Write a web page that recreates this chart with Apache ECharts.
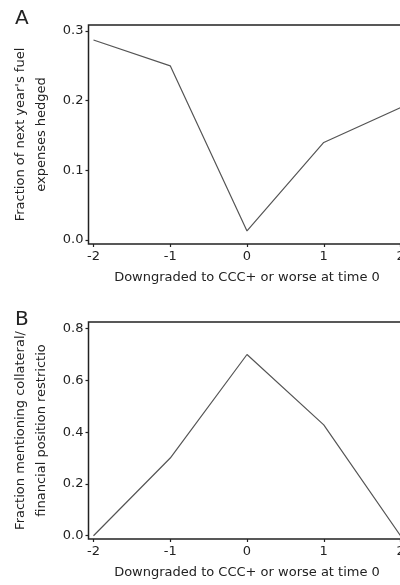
<!DOCTYPE html>
<html>
<head>
<meta charset="utf-8">
<script src="https://cdn.jsdelivr.net/npm/echarts@6/dist/echarts.min.js"></script>
<style>
  html, body { margin: 0; padding: 0; background: #fff; }
  #chart { width: 400px; height: 585px; }
</style>
</head>
<body>
<div id="chart"></div>
<script>
// 评级下调前后的两个面板：A 燃油对冲比例，B 提及抵押品/财务限制的比例
const years = [-2, -1, 0, 1, 2]
const hedgedShare = [0.287, 0.25, 0.013, 0.14, 0.19]
const collateralShare = [0.0, 0.3, 0.7, 0.428, 0.0]

const xTicks = [-2, -1, 0, 1, 2]
const yTicksA = [0, 0.1, 0.2, 0.3]
const yTicksB = [0, 0.2, 0.4, 0.6, 0.8]

const xTitle = 'Downgraded to CCC+ or worse at time 0'
const yTitleA = "Fraction of next year's fuel\nexpenses hedged"
const yTitleB = 'Fraction mentioning collateral/\nfinancial position restrictio'

const FONT = 'DejaVu Sans'
const INK = '#222'

const pairs = (ys) => years.map((x, i) => [x, ys[i]])

const xAxisOf = (gridIndex) => ({
  type: 'value',
  gridIndex,
  min: -2.065,
  max: 2.065,
  name: xTitle,
  nameLocation: 'middle',
  nameGap: 27,
  nameTextStyle: { fontFamily: FONT, fontSize: 13, color: INK },
  axisLine: { show: false, onZero: false },
  splitLine: { show: false },
  axisTick: { show: true, length: 3, customValues: xTicks, lineStyle: { color: INK, width: 1.2 } },
  axisLabel: {
    customValues: xTicks,
    margin: 6,
    fontFamily: FONT,
    fontSize: 13,
    color: INK,
    formatter: (v) => String(v)
  }
})

const yAxisOf = (gridIndex, min, max, ticks, title) => ({
  type: 'value',
  gridIndex,
  min,
  max,
  name: title,
  nameLocation: 'middle',
  nameGap: 36,
  nameTextStyle: { fontFamily: FONT, fontSize: 13, color: INK, lineHeight: 21 },
  axisLine: { show: false, onZero: false },
  splitLine: { show: false },
  axisTick: { show: true, length: 3, customValues: ticks, lineStyle: { color: INK, width: 1.2 } },
  axisLabel: {
    customValues: ticks,
    margin: 5,
    fontFamily: FONT,
    fontSize: 13,
    color: INK,
    formatter: (v) => v.toFixed(1)
  }
})

const lineOf = (idx, ys) => ({
  type: 'line',
  xAxisIndex: idx,
  yAxisIndex: idx,
  data: pairs(ys),
  symbol: 'none',
  lineStyle: { color: '#555', width: 1.2 },
  animation: false
})

const gridOf = (top, height) => ({
  left: 88.5,
  top,
  width: 317,
  height,
  outerBoundsMode: 'none',
  containLabel: false,
  show: true,
  borderColor: INK,
  borderWidth: 1.5
})

const chart = echarts.init(document.getElementById('chart'), null, { renderer: 'canvas' })
chart.setOption({
  backgroundColor: '#fff',
  animation: false,
  title: [
    { text: 'A', left: 10, top: 4, textStyle: { fontFamily: FONT, fontSize: 20, fontWeight: 'normal', color: INK } },
    { text: 'B', left: 10, top: 305, textStyle: { fontFamily: FONT, fontSize: 20, fontWeight: 'normal', color: INK } }
  ],
  grid: [gridOf(25, 219), gridOf(322, 217)],
  xAxis: [xAxisOf(0), xAxisOf(1)],
  yAxis: [
    yAxisOf(0, -0.0057, 0.3086, yTicksA, yTitleA),
    yAxisOf(1, -0.0127, 0.8255, yTicksB, yTitleB)
  ],
  series: [lineOf(0, hedgedShare), lineOf(1, collateralShare)]
})
</script>
</body>
</html>
